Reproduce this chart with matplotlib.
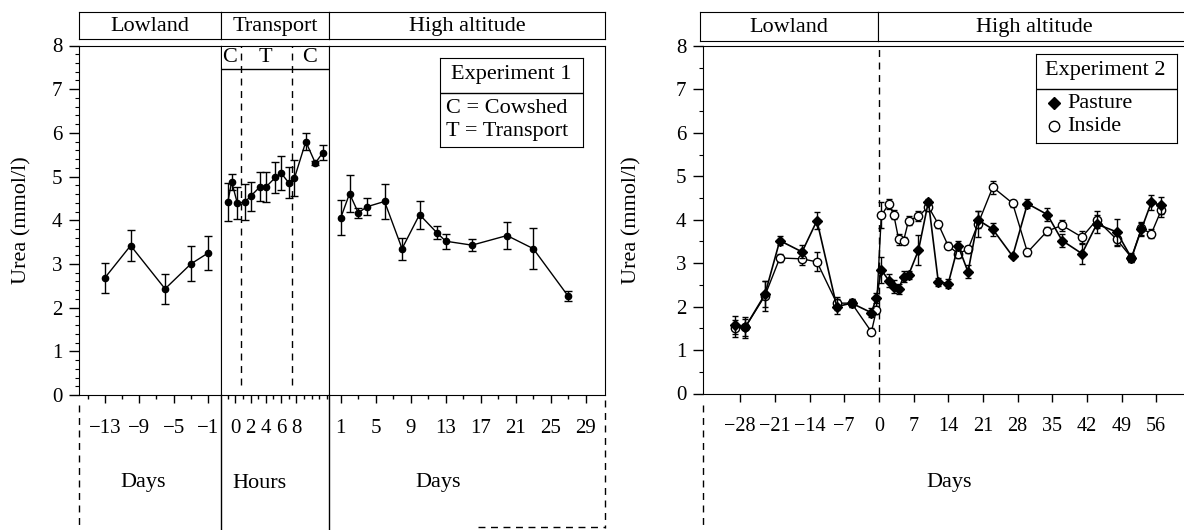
import matplotlib
matplotlib.use('Agg')
import matplotlib.pyplot as plt
from matplotlib.lines import Line2D
from matplotlib.ticker import FixedLocator, MultipleLocator

plt.rcParams['font.family'] = ['Liberation Serif', 'DejaVu Serif']
plt.rcParams['font.size'] = 16
plt.rcParams['mathtext.default'] = 'regular'

W, H = 1184, 530

# ---- Experiment 1 ----
low_days = [-13, -10, -6, -3, -1]
low_urea = [2.68, 3.42, 2.43, 3.00, 3.25]
low_err = [0.35, 0.36, 0.35, 0.40, 0.38]

trans_hours = [-1, -0.5, 0.25, 1.25, 2, 3.25, 4, 5.25, 6, 7, 7.75, 9.25, 10.5, 11.5]
trans_urea = [4.42, 4.88, 4.39, 4.42, 4.55, 4.77, 4.76, 4.98, 5.08, 4.86, 4.96, 5.80, 5.31, 5.55]
trans_err = [0.43, 0.19, 0.37, 0.41, 0.33, 0.34, 0.34, 0.35, 0.38, 0.35, 0.41, 0.20, 0.05, 0.17]
transport_start, transport_end = 0.75, 7.45

high_days = [1, 2, 3, 4, 6, 8, 10, 12, 13, 16, 20, 23, 27]
high_urea = [4.06, 4.61, 4.17, 4.31, 4.43, 3.35, 4.13, 3.71, 3.52, 3.43, 3.65, 3.35, 2.26]
high_err = [0.40, 0.42, 0.12, 0.19, 0.39, 0.25, 0.32, 0.15, 0.17, 0.13, 0.30, 0.47, 0.11]

# ---- Experiment 2 ----
exp2_days = [-29, -27, -23, -20, -15.5, -12.5, -8.5, -5.5, -1.5, -0.5,
             0.5, 2, 3, 4, 5, 6, 8, 10, 12, 14, 16, 18, 20, 23, 27,
             30, 34, 37, 41, 44, 48, 51, 53, 55, 57]
pasture = [1.58, 1.52, 2.28, 3.52, 3.26, 3.98, 2.00, 2.08, 1.86, 2.20,
           2.85, 2.60, 2.46, 2.41, 2.69, 2.73, 3.30, 4.42, 2.57, 2.53, 3.40, 2.80, 4.00, 3.78, 3.16,
           4.37, 4.12, 3.52, 3.22, 3.90, 3.72, 3.12, 3.78, 4.40, 4.33]
pasture_err = [0.20, 0.20, 0.30, 0.10, 0.15, 0.20, 0.18, 0.10, 0.10, 0.12,
               0.30, 0.15, 0.15, 0.12, 0.12, 0.10, 0.35, 0.05, 0.10, 0.10, 0.10, 0.15, 0.20, 0.15, 0.05,
               0.10, 0.15, 0.15, 0.25, 0.20, 0.30, 0.10, 0.15, 0.18, 0.20]
inside = [1.50, 1.52, 2.25, 3.12, 3.10, 3.03, 2.08, 2.08, 1.42, 1.92,
          4.10, 4.36, 4.12, 3.55, 3.52, 3.98, 4.08, 4.30, 3.90, 3.40, 3.22, 3.32, 3.90, 4.75, 4.38,
          3.25, 3.74, 3.87, 3.60, 4.00, 3.55, 3.13, 3.80, 3.68, 4.22]
inside_err = [0.20, 0.25, 0.35, 0.10, 0.15, 0.22, 0.15, 0.10, 0.08, 0.10,
              0.30, 0.12, 0.10, 0.12, 0.08, 0.10, 0.12, 0.10, 0.08, 0.08, 0.10, 0.08, 0.30, 0.15, 0.08,
              0.08, 0.10, 0.12, 0.15, 0.20, 0.15, 0.10, 0.15, 0.10, 0.15]

fig = plt.figure(figsize=(W / 100, H / 100), dpi=100)

TICK_FS = 15
TEXT_FS = 16


def px_axes(x0, y0, x1, y1):
    return fig.add_axes([x0 / W, 1 - y1 / H, (x1 - x0) / W, (y1 - y0) / H])


def fig_line(xs, ys, **kw):
    kw.setdefault('color', 'k')
    kw.setdefault('lw', 1.0)
    fig.add_artist(Line2D([x / W for x in xs], [1 - y / H for y in ys],
                          transform=fig.transFigure, **kw))


def header(x0, x1, label, y0=12, y1=39, hide_right=False):
    ax = px_axes(x0, y0, x1, y1)
    ax.set_xticks([])
    ax.set_yticks([])
    if hide_right:
        ax.spines['right'].set_visible(False)
    ax.text(0.5, 0.47, label, ha='center', va='center', transform=ax.transAxes, fontsize=TEXT_FS)
    return ax


def style_x(ax, major, minor, labels):
    ax.xaxis.set_major_locator(FixedLocator(major))
    ax.xaxis.set_minor_locator(FixedLocator(minor))
    ax.set_xticklabels(labels)
    ax.tick_params(axis='x', which='major', direction='out', length=6, width=1, pad=11, labelsize=TICK_FS)
    ax.tick_params(axis='x', which='minor', direction='out', length=3, width=1)


def style_y(ax, minor_step):
    ax.set_ylim(0, 8)
    ax.yaxis.set_major_locator(MultipleLocator(1))
    ax.yaxis.set_minor_locator(MultipleLocator(minor_step))
    ax.tick_params(axis='y', which='major', direction='out', length=7, width=1, pad=5, labelsize=TICK_FS)
    ax.tick_params(axis='y', which='minor', direction='out', length=3, width=0.8)


DASH = (0, (5, 4))
eb = dict(color='k', lw=1, elinewidth=1, capsize=3, capthick=1)

# ---------------- left panel (experiment 1) ----------------
ax_low = px_axes(79, 45.5, 221, 395)
ax_tr = px_axes(221, 45.5, 329, 395)
ax_hi = px_axes(329, 45.5, 605, 395)

style_y(ax_low, 0.2)
for ax in (ax_tr, ax_hi):
    ax.set_ylim(0, 8)
    ax.tick_params(axis='y', which='both', left=False, labelleft=False)

ax_low.set_xlim(-16, 0.5)
style_x(ax_low, [-13, -9, -5, -1], [-15, -11, -7, -3], ['−13', '−9', '−5', '−1'])
ax_low.errorbar(low_days, low_urea, yerr=low_err, fmt='-o', ms=4.5, **eb)

ax_tr.set_xlim(-1.9, 12.3)
style_x(ax_tr, [0, 2, 4, 6, 8], [-1, 1, 3, 5, 7, 9, 10, 11, 12], ['0', '2', '4', '6', '8'])
ax_tr.errorbar(trans_hours, trans_urea, yerr=trans_err, fmt='-o', ms=4.5, **eb)
ax_tr.axhline(7.47, color='k', lw=1)
for h in (transport_start, transport_end):
    ax_tr.axvline(h, ymin=0.03, ymax=1, color='k', lw=1, linestyle=DASH)
for h, lab in [(-0.75, 'C'), (4.0, 'T'), (9.7, 'C')]:
    ax_tr.text(h, 7.73, lab, ha='center', va='center', fontsize=TEXT_FS,
               bbox=dict(facecolor='white', edgecolor='none', pad=0.3))

ax_hi.set_xlim(-0.35, 31.2)
style_x(ax_hi, list(range(1, 30, 4)), list(range(3, 30, 4)), [str(d) for d in range(1, 30, 4)])
ax_hi.errorbar(high_days, high_urea, yerr=high_err, fmt='-o', ms=4.5, **eb)

header(79, 221, 'Lowland')
header(221, 329, 'Transport')
header(329, 605, 'High altitude')

leg1 = px_axes(440, 58, 583, 147)
leg1.set_xlim(0, 1)
leg1.set_ylim(0, 1)
leg1.set_xticks([])
leg1.set_yticks([])
leg1.axhline(0.61, color='k', lw=1)
leg1.text(0.5, 0.81, 'Experiment 1', ha='center', va='center', fontsize=TEXT_FS)
leg1.text(0.04, 0.43, 'C = Cowshed', ha='left', va='center', fontsize=TEXT_FS)
leg1.text(0.04, 0.17, 'T = Transport', ha='left', va='center', fontsize=TEXT_FS)

fig.text(22 / W, 1 - 220 / H, 'Urea (mmol/l)', rotation=90, ha='center', va='center', fontsize=TEXT_FS)
fig.text(143 / W, 1 - 483 / H, 'Days', ha='center', va='center', fontsize=TEXT_FS)
fig.text(259 / W, 1 - 483 / H, 'Hours', ha='center', va='center', fontsize=TEXT_FS)
fig.text(438 / W, 1 - 483 / H, 'Days', ha='center', va='center', fontsize=TEXT_FS)

fig_line([79, 79], [405, 530], linestyle=DASH)
fig_line([221, 221], [395, 530])
fig_line([329, 329], [395, 530])
fig_line([605, 605], [400, 528], linestyle=DASH)
fig_line([478, 605], [527, 527], linestyle=DASH)

# ---------------- right panel (experiment 2) ----------------
ax_r = px_axes(703, 46, 1184, 393.5)
style_y(ax_r, 0.5)
ax_r.set_xlim(-35.5, 61.6)
ax_r.spines['right'].set_visible(False)
r_ticks = list(range(-28, 57, 7))
style_x(ax_r, r_ticks, [], [str(t).replace('-', '−') for t in r_ticks])
ax_r.tick_params(axis='x', which='major', labelsize=14.5)
ax_r.axvline(0, color='k', lw=1, linestyle=DASH)

ax_r.errorbar(exp2_days, inside, yerr=inside_err, fmt='-o', ms=6, mfc='white', mec='k',
              mew=1, color='k', lw=1, elinewidth=1, capsize=2.5, capthick=1, zorder=3)
ax_r.errorbar(exp2_days, pasture, yerr=pasture_err, fmt='-D', ms=5.5, mfc='k', mec='k',
              color='k', lw=1.2, elinewidth=1, capsize=2.5, capthick=1, zorder=4)

header(700, 878, 'Lowland', y1=40.5)
header(878, 1190, 'High altitude', y1=40.5, hide_right=True)

leg2 = px_axes(1036, 54, 1177, 143)
leg2.set_xlim(0, 1)
leg2.set_ylim(0, 1)
leg2.set_xticks([])
leg2.set_yticks([])
leg2.axhline(0.61, color='k', lw=1)
leg2.text(0.49, 0.81, 'Experiment 2', ha='center', va='center', fontsize=TEXT_FS)
leg2.plot([0.125], [0.45], marker='D', ms=6.5, color='k')
leg2.plot([0.125], [0.19], marker='o', ms=7.5, mfc='white', mec='k', mew=1)
leg2.text(0.22, 0.44, 'Pasture', ha='left', va='center', fontsize=TEXT_FS)
leg2.text(0.22, 0.18, 'Inside', ha='left', va='center', fontsize=TEXT_FS)

fig.text(632 / W, 1 - 220 / H, 'Urea (mmol/l)', rotation=90, ha='center', va='center', fontsize=TEXT_FS)
fig.text(949 / W, 1 - 483 / H, 'Days', ha='center', va='center', fontsize=TEXT_FS)

fig_line([703, 703], [405, 530], linestyle=DASH)

fig.savefig('out.png', dpi=100)
